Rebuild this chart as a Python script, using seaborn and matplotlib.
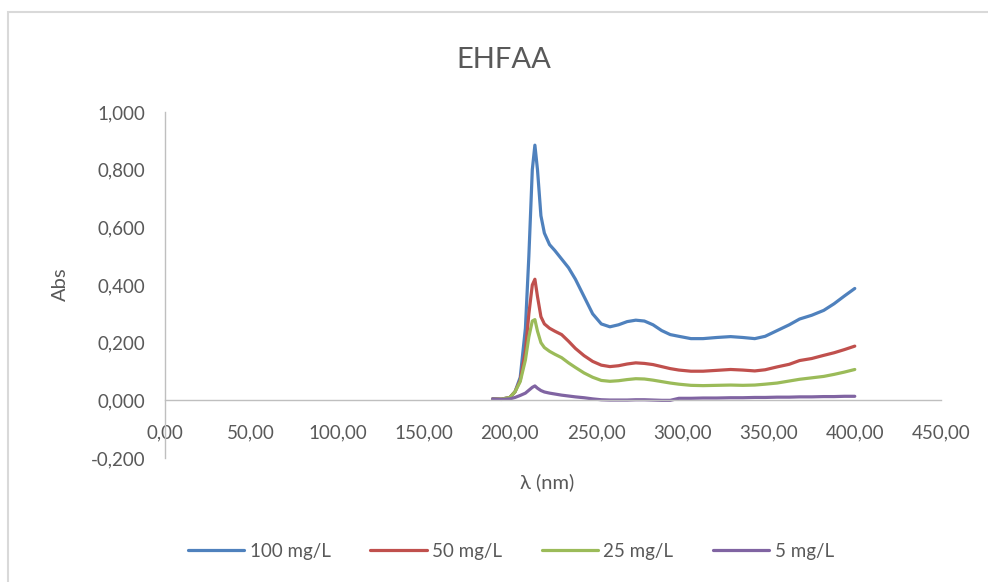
import matplotlib
matplotlib.use("Agg")
import matplotlib.pyplot as plt
from matplotlib.ticker import FuncFormatter, MultipleLocator
from matplotlib.patches import Rectangle
import seaborn as sns
import pandas as pd

# --- data ---
wavelength = [190, 195, 200, 203, 206, 209, 211, 213, 214.5, 216, 218, 220, 223, 226, 230,
              234, 238, 243, 248, 253, 258, 263, 268, 273, 278, 283, 288, 293, 298, 305,
              312, 320, 328, 335, 342, 348, 355, 362, 368, 375, 382, 388, 394, 400]

abs_100 = [0.005, 0.004, 0.010, 0.030, 0.080, 0.250, 0.500, 0.800, 0.885, 0.800, 0.640, 0.580,
           0.540, 0.520, 0.490, 0.460, 0.420, 0.360, 0.300, 0.265, 0.255, 0.262, 0.273, 0.278,
           0.275, 0.262, 0.242, 0.228, 0.222, 0.214, 0.214, 0.218, 0.221, 0.218, 0.214, 0.222,
           0.242, 0.262, 0.282, 0.295, 0.312, 0.335, 0.362, 0.388]
abs_50 = [0.005, 0.004, 0.010, 0.030, 0.070, 0.170, 0.300, 0.400, 0.420, 0.360, 0.290, 0.265,
          0.250, 0.240, 0.228, 0.205, 0.180, 0.155, 0.135, 0.122, 0.117, 0.120, 0.126, 0.130,
          0.128, 0.124, 0.117, 0.110, 0.105, 0.101, 0.101, 0.104, 0.107, 0.105, 0.102, 0.106,
          0.116, 0.125, 0.138, 0.145, 0.156, 0.165, 0.176, 0.188]
abs_25 = [0.005, 0.004, 0.010, 0.030, 0.065, 0.140, 0.220, 0.275, 0.280, 0.240, 0.200, 0.183,
          0.170, 0.160, 0.148, 0.130, 0.114, 0.095, 0.080, 0.069, 0.066, 0.068, 0.072, 0.075,
          0.074, 0.070, 0.065, 0.060, 0.056, 0.052, 0.051, 0.052, 0.053, 0.052, 0.053, 0.056,
          0.060, 0.067, 0.073, 0.078, 0.083, 0.090, 0.098, 0.107]
abs_5 = [0.005, 0.003, 0.005, 0.010, 0.017, 0.025, 0.035, 0.045, 0.050, 0.042, 0.034, 0.029,
         0.025, 0.022, 0.018, 0.015, 0.012, 0.009, 0.005, 0.002, 0.001, 0.001, 0.001, 0.002,
         0.002, 0.001, 0.000, 0.000, 0.007, 0.007, 0.008, 0.008, 0.009, 0.009, 0.010, 0.010,
         0.011, 0.011, 0.012, 0.012, 0.013, 0.013, 0.014, 0.014]

series_names = ["100 mg/L", "50 mg/L", "25 mg/L", "5 mg/L"]
series_colors = ["#4F81BD", "#C0504D", "#9BBB59", "#8064A2"]

frames = []
for name, vals in zip(series_names, [abs_100, abs_50, abs_25, abs_5]):
    frames.append(pd.DataFrame({"wl": wavelength, "abs": vals, "conc": name}))
df = pd.concat(frames, ignore_index=True)

sns.set_style("white")
plt.rcParams["font.family"] = ["Lato", "DejaVu Sans"]
text_col = "#595959"
axis_col = "#bfbfbf"

fig = plt.figure(figsize=(9.88, 5.82), dpi=100)
# light chart border, like the Excel chart area
fig.patches.append(Rectangle((8 / 988, -0.1), 1.2, 1 - 12 / 582 + 0.1, transform=fig.transFigure,
                             fill=False, edgecolor="#d9d9d9", linewidth=1.5))
ax = fig.add_axes([165 / 988, 1 - 458 / 582, (941 - 165) / 988, (458 - 112) / 582])

sns.lineplot(data=df, x="wl", y="abs", hue="conc", hue_order=series_names,
             palette=series_colors, linewidth=2.3, ax=ax, legend=False, sort=False)

ax.set_xlim(0, 450)
ax.set_ylim(-0.2, 1.0)
ax.xaxis.set_major_locator(MultipleLocator(50))
ax.yaxis.set_major_locator(MultipleLocator(0.2))
ax.xaxis.set_major_formatter(FuncFormatter(lambda v, p: f"{v:.2f}".replace(".", ",")))
ax.yaxis.set_major_formatter(FuncFormatter(lambda v, p: f"{v:.3f}".replace(".", ",").replace("-0,000", "0,000")))

ax.spines["top"].set_visible(False)
ax.spines["right"].set_visible(False)
ax.spines["bottom"].set_position(("data", 0))
for s in ["left", "bottom"]:
    ax.spines[s].set_color(axis_col)
    ax.spines[s].set_linewidth(1.0)
ax.tick_params(axis="x", length=0, pad=17, labelsize=13.5, labelcolor=text_col)
ax.tick_params(axis="y", length=0, pad=14, labelsize=13.5, labelcolor=text_col)
ax.set_xlabel("")
ax.set_ylabel("")

fig.text(504 / 988, 1 - 60 / 582, "EHFAA", ha="center", va="center", fontsize=21, color=text_col)
fig.text(60 / 988, 1 - 284 / 582, "Abs", ha="center", va="center", rotation=90, fontsize=14.5, color=text_col)
fig.text(547 / 988, 1 - 482 / 582, "λ (nm)", ha="center", va="center", fontsize=14.5, color=text_col)

handles = [plt.Line2D([], [], color=c, linewidth=2.3) for c in series_colors]
fig.legend(handles, series_names, loc="center", bbox_to_anchor=(511 / 988, 1 - 551 / 582),
           ncol=4, frameon=False, fontsize=13.5, handlelength=3.0, handletextpad=0.3,
           columnspacing=2.1, labelcolor=text_col)

fig.savefig("out.png", dpi=100)
